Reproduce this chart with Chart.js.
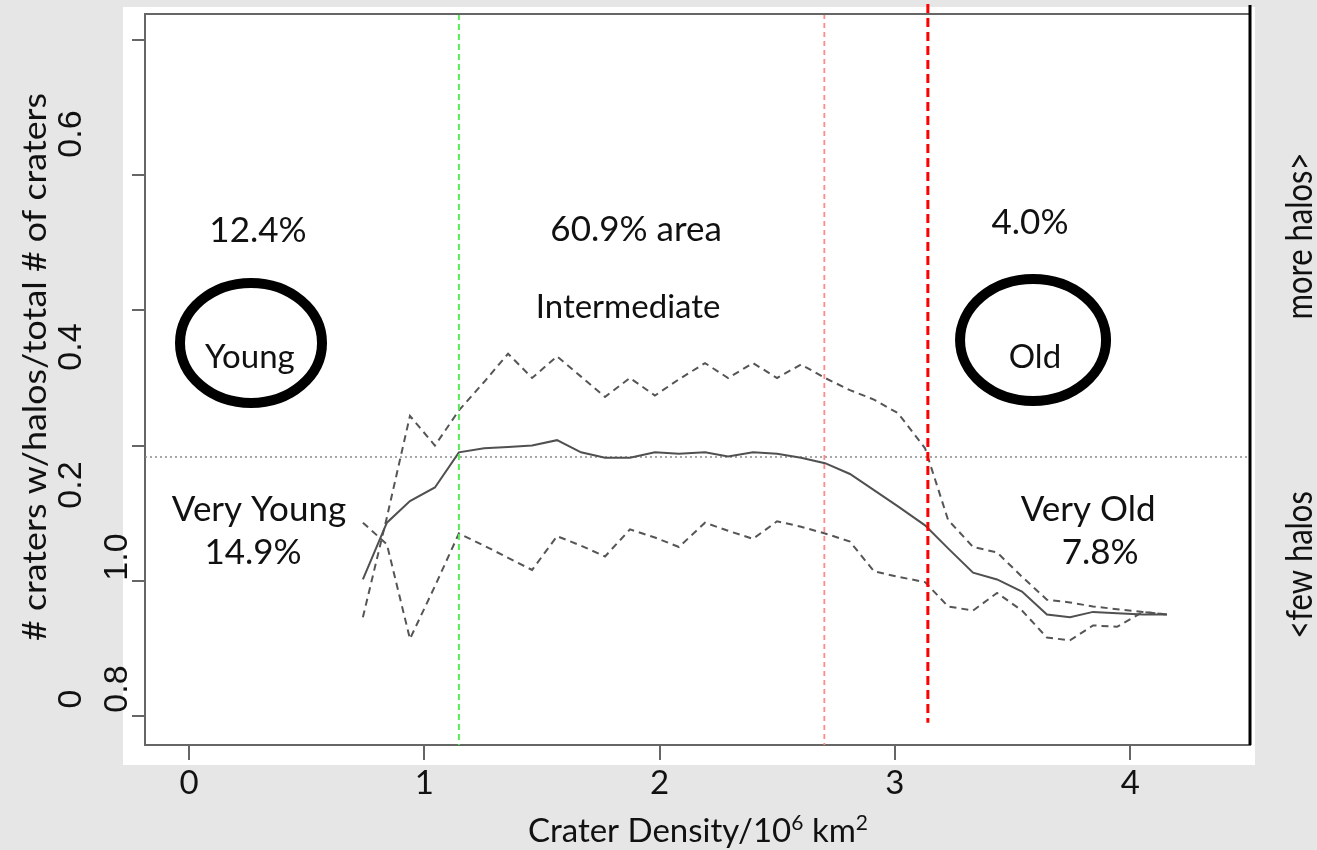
<!DOCTYPE html>
<html>
<head>
<meta charset="utf-8">
<title>Crater halos vs crater density</title>
<script src="https://cdn.jsdelivr.net/npm/chart.js@4.4.1/dist/chart.umd.min.js"></script>
<style>
  html, body { margin: 0; padding: 0; background: #e6e6e6; }
  #haloChart { display: block; }
</style>
</head>
<body>
<canvas id="haloChart" width="1317" height="850"></canvas>
<script>
// Crater density bins (10^6 km^2)
const density = [0.739, 0.841, 0.939, 1.045, 1.147, 1.254, 1.356, 1.458, 1.564, 1.666,
                 1.768, 1.874, 1.980, 2.082, 2.193, 2.291, 2.397, 2.499, 2.601, 2.703,
                 2.809, 2.911, 3.013, 3.128, 3.226, 3.332, 3.434, 3.540, 3.646, 3.744,
                 3.842, 3.944, 4.054, 4.156];

// fraction of craters with halos, running mean
const meanRatio = [0.101, 0.143, 0.159, 0.169, 0.195, 0.198, 0.199, 0.200, 0.204, 0.195,
                   0.191, 0.191, 0.195, 0.194, 0.195, 0.192, 0.195, 0.194, 0.191, 0.187,
                   0.179, 0.167, 0.155, 0.141, 0.124, 0.106, 0.101, 0.092, 0.075, 0.073,
                   0.077, 0.076, 0.075, 0.075];

// envelope curves (dashed)
const upperBand = [0.073, 0.147, 0.222, 0.200, 0.226, 0.247, 0.268, 0.250, 0.266, 0.251,
                   0.236, 0.250, 0.237, 0.249, 0.261, 0.250, 0.261, 0.250, 0.260, 0.250,
                   0.241, 0.234, 0.224, 0.198, 0.145, 0.125, 0.121, 0.103, 0.086, 0.084,
                   0.081, 0.079, 0.077, 0.075];

const lowerBand = [0.143, 0.127, 0.057, 0.096, 0.135, 0.126, 0.117, 0.108, 0.133, 0.126,
                   0.118, 0.138, 0.132, 0.125, 0.143, 0.137, 0.131, 0.144, 0.140, 0.135,
                   0.129, 0.107, 0.103, 0.099, 0.081, 0.078, 0.091, 0.078, 0.058, 0.056,
                   0.067, 0.066, 0.077, 0.075];

const overallRatio = 0.1916;
// young / intermediate / old boundaries
const ageBounds = [1.147, 2.70, 3.14];

// rotated left-hand axis labels
const yLabels = [
  { text: '0.6', x: 72, y: 134 },
  { text: '0.4', x: 72, y: 347 },
  { text: '0.2', x: 72, y: 485 },
  { text: '0',   x: 72, y: 699 },
  { text: '1.0', x: 118, y: 557 },
  { text: '0.8', x: 118, y: 689 }
];

// region annotations, placed in data units
const notes = [
  { text: '12.4%',        x: 0.293, y: 0.359, size: 35 },
  { text: '60.9% area',   x: 1.900, y: 0.3595, size: 35 },
  { text: 'Intermediate', x: 1.866, y: 0.302, size: 33 },
  { text: '4.0%',         x: 3.574, y: 0.3646, size: 35 },
  { text: 'Young',        x: 0.259, y: 0.2655, size: 33 },
  { text: 'Old',          x: 3.595, y: 0.2655, size: 33 },
  { text: 'Very Young',   x: 0.2975, y: 0.1524, size: 35 },
  { text: '14.9%',        x: 0.272, y: 0.1206, size: 35 },
  { text: 'Very Old',     x: 3.821, y: 0.1524, size: 35 },
  { text: '7.8%',         x: 3.872, y: 0.1206, size: 35 }
];

const rings = [
  { x: 0.2635, y: 0.2759, rx: 71, ry: 60 },
  { x: 3.587,  y: 0.2781, rx: 73, ry: 61 }
];

const SANS = 'Lato, "Open Sans", sans-serif';

function toPoints(ys) {
  return density.map((x, i) => ({ x: x, y: ys[i] }));
}

// rotated text with a horizontal squeeze factor
function squeezedText(ctx, text, x, y, squeeze, rot) {
  ctx.save();
  ctx.translate(x, y);
  ctx.rotate(rot || 0);
  ctx.scale(squeeze, 1);
  ctx.fillText(text, 0, 0);
  ctx.restore();
}

// same, but stretched to a given length
function fitText(ctx, text, x, y, len, rot) {
  squeezedText(ctx, text, x, y, len / ctx.measureText(text).width, rot);
}

const decorations = {
  id: 'decorations',
  beforeDraw(chart) {
    const ctx = chart.ctx;
    ctx.save();
    ctx.fillStyle = '#e6e6e6';
    ctx.fillRect(0, 0, chart.width, chart.height);
    ctx.fillStyle = '#ffffff';
    ctx.fillRect(123, 7, 1132, 758);
    ctx.restore();
  },
  beforeDatasetsDraw(chart) {
    const ctx = chart.ctx;
    const a = chart.chartArea;
    const yPix = chart.scales.y.getPixelForValue(overallRatio);
    ctx.save();
    ctx.strokeStyle = '#8a8a8a';
    ctx.lineWidth = 1.5;
    ctx.setLineDash([2, 3]);
    ctx.beginPath();
    ctx.moveTo(a.left, yPix);
    ctx.lineTo(a.right, yPix);
    ctx.stroke();
    ctx.restore();
  },
  afterDatasetsDraw(chart) {
    const ctx = chart.ctx;
    const a = chart.chartArea;
    const xs = chart.scales.x;
    const ys = chart.scales.y;
    const styles = [
      { color: '#55ee55', width: 2, dash: [6, 4], top: a.top, bottom: a.bottom },
      { color: '#ff8a8a', width: 1.8, dash: [5, 4], top: a.top, bottom: a.bottom },
      { color: '#ff0000', width: 3, dash: [9, 5], top: a.top - 10, bottom: ys.getPixelForValue(-0.005) }
    ];
    ageBounds.forEach((v, i) => {
      const s = styles[i];
      const px = xs.getPixelForValue(v);
      ctx.save();
      ctx.strokeStyle = s.color;
      ctx.lineWidth = s.width;
      ctx.setLineDash(s.dash);
      ctx.beginPath();
      ctx.moveTo(px, s.top);
      ctx.lineTo(px, s.bottom);
      ctx.stroke();
      ctx.restore();
    });
  },
  afterDraw(chart) {
    const ctx = chart.ctx;
    const a = chart.chartArea;
    const xs = chart.scales.x;
    const ys = chart.scales.y;
    ctx.save();

    // top frame line and heavy right-hand line
    ctx.strokeStyle = '#666';
    ctx.lineWidth = 2;
    ctx.beginPath();
    ctx.moveTo(a.left, a.top);
    ctx.lineTo(a.right, a.top);
    ctx.stroke();
    ctx.strokeStyle = '#000';
    ctx.lineWidth = 3;
    ctx.beginPath();
    ctx.moveTo(a.right, a.top - 9);
    ctx.lineTo(a.right, a.bottom);
    ctx.stroke();

    // circled age classes
    ctx.strokeStyle = '#000';
    ctx.lineWidth = 10;
    rings.forEach(r => {
      ctx.beginPath();
      ctx.ellipse(xs.getPixelForValue(r.x), ys.getPixelForValue(r.y), r.rx, r.ry, 0, 0, Math.PI * 2);
      ctx.stroke();
    });

    ctx.fillStyle = '#111';
    ctx.textAlign = 'center';
    ctx.textBaseline = 'middle';
    notes.forEach(n => {
      ctx.font = n.size + 'px ' + SANS;
      ctx.fillText(n.text, xs.getPixelForValue(n.x), ys.getPixelForValue(n.y));
    });

    // left tick labels, rotated
    ctx.font = '34px "Liberation Sans", Arial, sans-serif';
    yLabels.forEach(l => {
      ctx.save();
      ctx.translate(l.x, l.y);
      ctx.rotate(-Math.PI / 2);
      ctx.fillText(l.text, 0, 0);
      ctx.restore();
    });

    // axis titles
    ctx.font = '33px ' + SANS;
    fitText(ctx, '# craters w/halos/total # of craters', 35, 367, 548, -Math.PI / 2);
    ctx.font = '36px ' + SANS;
    squeezedText(ctx, 'more halos>', 1300, 236, 0.86, -Math.PI / 2);
    squeezedText(ctx, '<few halos', 1300, 565, 0.86, -Math.PI / 2);

    // x title with superscripts
    const parts = [
      { t: 'Crater Density/10', sup: false },
      { t: '6', sup: true },
      { t: ' km', sup: false },
      { t: '2', sup: true }
    ];
    const big = '33px ' + SANS, small = '21px ' + SANS;
    let total = 0;
    parts.forEach(p => {
      ctx.font = p.sup ? small : big;
      p.w = ctx.measureText(p.t).width;
      total += p.w;
    });
    let cx = 698 - total / 2;
    ctx.textAlign = 'left';
    ctx.textBaseline = 'alphabetic';
    parts.forEach(p => {
      ctx.font = p.sup ? small : big;
      ctx.fillText(p.t, cx, p.sup ? 830 : 842);
      cx += p.w;
    });
    ctx.restore();
  }
};

new Chart(document.getElementById('haloChart'), {
  type: 'line',
  data: {
    datasets: [
      {
        label: 'mean',
        data: toPoints(meanRatio),
        borderColor: '#505050',
        borderWidth: 2,
        pointRadius: 0,
        tension: 0
      },
      {
        label: 'upper',
        data: toPoints(upperBand),
        borderColor: '#555555',
        borderWidth: 2,
        borderDash: [7, 5],
        pointRadius: 0,
        tension: 0
      },
      {
        label: 'lower',
        data: toPoints(lowerBand),
        borderColor: '#555555',
        borderWidth: 2,
        borderDash: [7, 5],
        pointRadius: 0,
        tension: 0
      }
    ]
  },
  options: {
    responsive: false,
    animation: false,
    layout: { padding: { left: 0, top: 14, right: 67, bottom: 0 } },
    plugins: {
      legend: { display: false },
      tooltip: { enabled: false }
    },
    scales: {
      x: {
        type: 'linear',
        min: -0.187,
        max: 4.509,
        afterFit: s => { s.height = 105; },
        ticks: {
          stepSize: 1,
          includeBounds: false,
          color: '#111',
          padding: 4,
          font: { family: 'Lato', size: 33 }
        },
        grid: { drawOnChartArea: false, tickLength: 15, color: '#666', lineWidth: 2 },
        border: { color: '#666', width: 2 }
      },
      y: {
        type: 'linear',
        min: -0.02145,
        max: 0.5192,
        afterFit: s => { s.width = 145; },
        ticks: { stepSize: 0.1, includeBounds: false, display: false },
        grid: { drawOnChartArea: false, tickLength: 13, color: '#666', lineWidth: 2 },
        border: { color: '#666', width: 2 }
      }
    }
  },
  plugins: [decorations]
});
</script>
</body>
</html>
